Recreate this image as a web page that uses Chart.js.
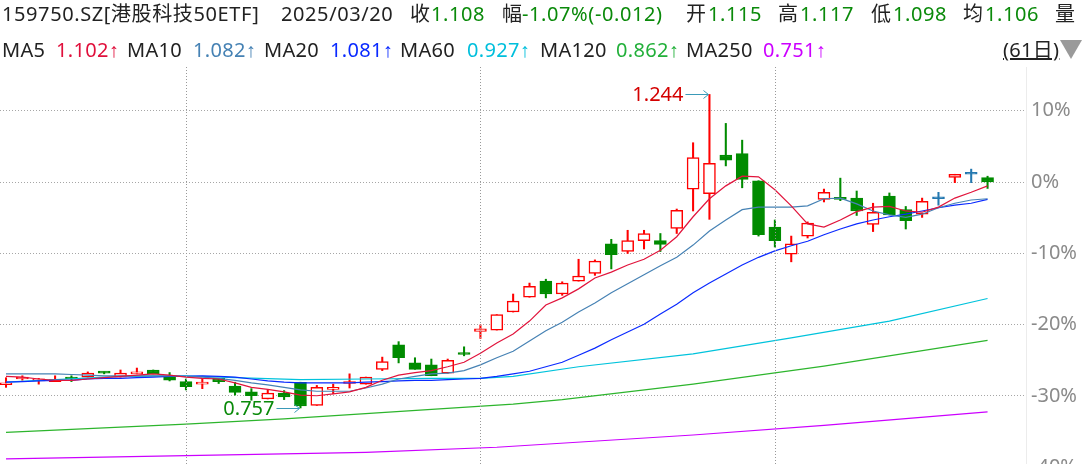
<!DOCTYPE html>
<html>
<head>
<meta charset="utf-8">
<script src="https://cdn.jsdelivr.net/npm/chart.js@4.4.1/dist/chart.umd.min.js"></script>
<style>
  html, body { margin: 0; padding: 0; background: #fff; overflow: hidden; width: 1086px; height: 464px; }
  #wrap { position: absolute; left: 0; top: 0; width: 1086px; height: 500px; }
  #head { position: absolute; left: 0; top: 0; width: 1086px; height: 64px; z-index: 2;
    font-family: "Noto Sans", "Noto Sans CJK SC", sans-serif; font-size: 20px; color: #222; }
  #head span { position: absolute; white-space: nowrap; line-height: 20px; }
  .r1 { top: 4px; letter-spacing: 0.6px; }
  .r2 { top: 40px; letter-spacing: 0.3px; }
  .g { color: #0a8a0a; }
  .up { font-family: "Liberation Sans", sans-serif; }
  #tri { position: absolute; left: 1060px; top: 40px; width: 0; height: 0;
    border-left: 11px solid transparent; border-right: 11px solid transparent; border-top: 19px solid #9a9a9a; }
</style>
</head>
<body>
<div id="head">
  <span class="r1" style="left:2px">159750.SZ[港股科技50ETF]</span>
  <span class="r1" style="left:281px">2025/03/20</span>
  <span class="r1" style="left:410px">收</span><span class="r1 g" style="left:431px">1.108</span>
  <span class="r1" style="left:502px">幅</span><span class="r1 g" style="left:522px">-1.07%(-0.012)</span>
  <span class="r1" style="left:686px">开</span><span class="r1 g" style="left:708px">1.115</span>
  <span class="r1" style="left:778px">高</span><span class="r1 g" style="left:800px">1.117</span>
  <span class="r1" style="left:871px">低</span><span class="r1 g" style="left:893px">1.098</span>
  <span class="r1" style="left:963px">均</span><span class="r1 g" style="left:985px">1.106</span>
  <span class="r1" style="left:1055px">量</span>

  <span class="r2" style="left:2px">MA5</span><span class="r2" style="left:56px;color:#e0103c">1.102<span class="up">↑</span></span>
  <span class="r2" style="left:127px">MA10</span><span class="r2" style="left:193px;color:#4682b4">1.082<span class="up">↑</span></span>
  <span class="r2" style="left:264px">MA20</span><span class="r2" style="left:330px;color:#0a2aff">1.081<span class="up">↑</span></span>
  <span class="r2" style="left:400px">MA60</span><span class="r2" style="left:467px;color:#00bfdc">0.927<span class="up">↑</span></span>
  <span class="r2" style="left:540px">MA120</span><span class="r2" style="left:616px;color:#22b03a">0.862<span class="up">↑</span></span>
  <span class="r2" style="left:686px">MA250</span><span class="r2" style="left:763px;color:#cc00ff">0.751<span class="up">↑</span></span>
  <span class="r2" style="left:1003px;text-decoration:underline">(61日)</span>
  <div id="tri"></div>
</div>
<div id="wrap"><canvas id="klineChart"></canvas></div>

<script>
// trading days shown (61日)
const dates = [
  "2024-12-17", "2024-12-18", "2024-12-19", "2024-12-20", "2024-12-23", "2024-12-24", "2024-12-25",
  "2024-12-26", "2024-12-27", "2024-12-30", "2024-12-31",
  "2025-01-02", "2025-01-03", "2025-01-06", "2025-01-07", "2025-01-08", "2025-01-09", "2025-01-10",
  "2025-01-13", "2025-01-14", "2025-01-15", "2025-01-16", "2025-01-17", "2025-01-20", "2025-01-21",
  "2025-01-22", "2025-01-23", "2025-01-24", "2025-01-27",
  "2025-02-05", "2025-02-06", "2025-02-07", "2025-02-10", "2025-02-11", "2025-02-12", "2025-02-13",
  "2025-02-14", "2025-02-17", "2025-02-18", "2025-02-19", "2025-02-20", "2025-02-21", "2025-02-24",
  "2025-02-25", "2025-02-26", "2025-02-27", "2025-02-28",
  "2025-03-03", "2025-03-04", "2025-03-05", "2025-03-06", "2025-03-07", "2025-03-10", "2025-03-11",
  "2025-03-12", "2025-03-13", "2025-03-14", "2025-03-17", "2025-03-18", "2025-03-19", "2025-03-20",
];

const opens = [
  0.793, 0.802, 0.799, 0.798, 0.803, 0.805, 0.812, 0.805, 0.810, 0.816, 0.806,
  0.798, 0.794, 0.803, 0.791, 0.782, 0.771, 0.780, 0.797, 0.761, 0.786, 0.795, 0.794, 0.817, 0.855,
  0.827, 0.824, 0.811, 0.841,
  0.876, 0.878, 0.906, 0.929, 0.954, 0.934, 0.954, 0.966, 1.012, 1.000, 1.017, 1.017, 1.036, 1.097,
  1.090, 1.150, 1.152, 1.110,
  1.038, 0.996, 1.024, 1.081, 1.083, 1.083, 1.042, 1.086, 1.065, 1.058, 1.082, 1.115, 1.120, 1.115,
];
const highs = [
  0.804, 0.807, 0.803, 0.807, 0.807, 0.813, 0.813, 0.816, 0.819, 0.816, 0.812,
  0.802, 0.803, 0.803, 0.797, 0.787, 0.785, 0.784, 0.797, 0.792, 0.794, 0.810, 0.805, 0.836, 0.860,
  0.835, 0.833, 0.833, 0.852,
  0.886, 0.902, 0.934, 0.951, 0.957, 0.953, 0.988, 0.987, 1.019, 1.033, 1.033, 1.028, 1.066, 1.169,
  1.244, 1.199, 1.173, 1.110,
  1.049, 1.024, 1.046, 1.097, 1.114, 1.094, 1.075, 1.091, 1.070, 1.083, 1.092, 1.120, 1.128, 1.117,
];
const lows = [
  0.789, 0.800, 0.794, 0.798, 0.798, 0.805, 0.810, 0.805, 0.810, 0.810, 0.799,
  0.785, 0.787, 0.795, 0.777, 0.769, 0.771, 0.770, 0.757, 0.761, 0.779, 0.788, 0.794, 0.815, 0.827,
  0.817, 0.807, 0.811, 0.838,
  0.865, 0.878, 0.906, 0.929, 0.928, 0.932, 0.954, 0.963, 0.973, 0.997, 1.004, 1.000, 1.028, 1.063,
  1.050, 1.133, 1.099, 1.024,
  1.007, 0.984, 1.021, 1.077, 1.079, 1.056, 1.031, 1.057, 1.035, 1.053, 1.072, 1.107, 1.107, 1.098,
];
const closes = [
  0.796, 0.804, 0.802, 0.801, 0.802, 0.811, 0.811, 0.811, 0.812, 0.810, 0.800,
  0.790, 0.797, 0.798, 0.781, 0.776, 0.780, 0.774, 0.760, 0.789, 0.788, 0.797, 0.805, 0.829, 0.835,
  0.817, 0.807, 0.831, 0.840,
  0.880, 0.902, 0.923, 0.946, 0.934, 0.951, 0.962, 0.985, 0.995, 1.017, 1.028, 1.011, 1.064, 1.146,
  1.137, 1.142, 1.112, 1.026,
  1.017, 1.012, 1.044, 1.092, 1.081, 1.063, 1.061, 1.057, 1.048, 1.078, 1.082, 1.120, 1.120, 1.108,
];

const ma5 = [
  0.806, 0.805, 0.802, 0.800, 0.800, 0.802, 0.804, 0.806, 0.808, 0.810, 0.808,
  0.805, 0.803, 0.802, 0.796, 0.789, 0.786, 0.782, 0.777, 0.776, 0.779, 0.782, 0.789, 0.800, 0.808,
  0.812, 0.815, 0.821, 0.828,
  0.842, 0.858, 0.872, 0.892, 0.917, 0.928, 0.942, 0.959, 0.968, 0.979, 0.988, 1.002, 1.023, 1.054,
  1.082, 1.102, 1.117, 1.116,
  1.096, 1.071, 1.043, 1.038, 1.049, 1.062, 1.069, 1.070, 1.063, 1.061, 1.069, 1.083, 1.092, 1.102,
];
const ma10 = [
  0.810, 0.810, 0.810, 0.810, 0.809, 0.808, 0.807, 0.807, 0.807, 0.807, 0.807,
  0.806, 0.805, 0.803, 0.800, 0.796, 0.793, 0.789, 0.785, 0.783, 0.783, 0.783, 0.788, 0.794, 0.802,
  0.806, 0.810, 0.811, 0.815,
  0.824, 0.835, 0.845, 0.861, 0.877, 0.890, 0.906, 0.920, 0.936, 0.950, 0.964, 0.978, 0.991, 1.010,
  1.032, 1.049, 1.065, 1.069,
  1.069, 1.069, 1.071, 1.082, 1.083, 1.074, 1.063, 1.057, 1.053, 1.058, 1.068, 1.075, 1.080, 1.082,
];
const ma20 = [
  0.797, 0.798, 0.799, 0.800, 0.800, 0.802, 0.803, 0.803, 0.804, 0.805, 0.806,
  0.806, 0.807, 0.806, 0.805, 0.802, 0.799, 0.797, 0.796, 0.796, 0.796, 0.796, 0.797, 0.798, 0.799,
  0.800, 0.800, 0.801, 0.802,
  0.803, 0.806, 0.810, 0.814, 0.821, 0.828, 0.839, 0.850, 0.863, 0.875, 0.887, 0.903, 0.918, 0.936,
  0.951, 0.965, 0.979, 0.991,
  1.001, 1.009, 1.016, 1.026, 1.035, 1.043, 1.049, 1.054, 1.058, 1.063, 1.068, 1.072, 1.075, 1.081,
];
// slow averages, read at the days where they bend
const ma60Days = [0, 7, 11, 14, 18, 22, 26, 29, 31, 35, 42, 48, 54, 60];
const ma60 = [0.797, 0.806, 0.807, 0.804, 0.801, 0.802, 0.803, 0.803, 0.806, 0.821, 0.841, 0.866, 0.892, 0.927];
const ma120Days = [0, 11, 17, 31, 34, 42, 50, 60];
const ma120 = [0.719, 0.732, 0.740, 0.763, 0.770, 0.794, 0.822, 0.862];
const ma250Days = [0, 22, 30, 42, 50, 60];
const ma250 = [0.678, 0.688, 0.696, 0.715, 0.730, 0.751];

const basePrice = 1.108;
const pctTicks = [-40, -30, -20, -10, 0, 10];

const UP = "#ff0000";
const DOWN = "#008b00";
const FLAT = "#2478b0";
const GRID = "#999999";

const dayIdx = dates.map((d, i) => i);
const monthStarts = dayIdx.filter(i => i > 0 && dates[i].slice(0, 7) !== dates[i - 1].slice(0, 7));

function candleColor(i) {
  if (closes[i] > opens[i]) return UP;
  if (closes[i] < opens[i]) return DOWN;
  return FLAT;
}

function maLine(days, values, color) {
  return {
    type: "line",
    data: days.map((d, k) => ({ x: d, y: values[k] })),
    borderColor: color,
    borderWidth: 1.2,
    pointRadius: 0,
    tension: 0,
    order: 0,
  };
}

// dotted separators at the first trading day of each month
const monthLines = {
  id: "monthLines",
  afterDatasetsDraw(chart) {
    const { ctx, chartArea } = chart;
    const xs = chart.scales.x;
    ctx.save();
    ctx.fillStyle = GRID;
    xs.ticks.forEach((t, k) => {
      const px = Math.round(xs.getPixelForTick(k));
      for (let y = Math.ceil(chartArea.top); y < chartArea.bottom; y += 3) {
        ctx.fillRect(px, y, 1, 1);
      }
    });
    ctx.restore();
  },
};

// high / low markers with the little arrow
const extremeLabels = {
  id: "extremeLabels",
  afterDatasetsDraw(chart) {
    const { ctx } = chart;
    const xs = chart.scales.x;
    const ys = chart.scales.y;
    const hi = Math.max(...highs);
    const lo = Math.min(...lows);
    const marks = [
      { i: highs.indexOf(hi), v: hi, color: "#d40000" },
      { i: lows.indexOf(lo), v: lo, color: "#0a8a0a" },
    ];
    ctx.save();
    ctx.font = '20px "Noto Sans"';
    ctx.textAlign = "right";
    ctx.textBaseline = "middle";
    marks.forEach(m => {
      const px = xs.getPixelForValue(m.i);
      const py = Math.round(ys.getPixelForValue(m.v)) + 0.5;
      ctx.strokeStyle = "#3a9ab8";
      ctx.lineWidth = 1;
      ctx.beginPath();
      ctx.moveTo(px - 24, py);
      ctx.lineTo(px - 1, py);
      ctx.moveTo(px - 6, py - 4);
      ctx.lineTo(px - 1, py);
      ctx.lineTo(px - 6, py + 4);
      ctx.stroke();
      ctx.fillStyle = m.color;
      ctx.fillText(m.v.toFixed(3), px - 26, py + 1);
    });
    ctx.restore();
  },
};

new Chart(document.getElementById("klineChart"), {
  type: "bar",
  data: {
    datasets: [
      maLine(dayIdx, ma5, "#e1143c"),
      maLine(dayIdx, ma10, "#4682b4"),
      maLine(dayIdx, ma20, "#0a2aff"),
      maLine(ma60Days, ma60, "#00c3dc"),
      maLine(ma120Days, ma120, "#2db52d"),
      maLine(ma250Days, ma250, "#cc00ff"),
      {
        // bodies
        data: dayIdx.map(i => ({ x: i, y: [opens[i], closes[i]] })),
        backgroundColor: dayIdx.map(i => (closes[i] > opens[i] ? "#ffffff" : candleColor(i))),
        borderColor: dayIdx.map(candleColor),
        borderWidth: 1.5,
        borderSkipped: false,
        barThickness: 12,
        minBarLength: 2,
        grouped: false,
        order: 1,
      },
      {
        // wicks
        data: dayIdx.map(i => ({ x: i, y: [lows[i], highs[i]] })),
        backgroundColor: dayIdx.map(candleColor),
        borderWidth: 0,
        barThickness: 1.4,
        grouped: false,
        order: 2,
      },
    ],
  },
  options: {
    responsive: true,
    maintainAspectRatio: false,
    animation: false,
    layout: { padding: { top: 67, bottom: 20, left: 0, right: 0 } },
    plugins: {
      legend: { display: false },
      tooltip: { enabled: false },
    },
    scales: {
      x: {
        type: "linear",
        bounds: "data",
        offset: false,
        min: -0.367,
        max: 62.35,
        afterBuildTicks: s => { s.ticks = monthStarts.map(v => ({ value: v })); },
        ticks: { display: false },
        grid: { display: false, drawTicks: false, offset: false },
        border: { display: false },
      },
      y: {
        type: "linear",
        position: "right",
        bounds: "data",
        min: basePrice * (1 - 0.41777),
        max: basePrice * (1 + 0.16122),
        afterBuildTicks: s => { s.ticks = pctTicks.map(p => ({ value: basePrice * (1 + p / 100) })); },
        afterFit: s => { s.width = 60; },
        ticks: {
          padding: 5,
          color: "#8a8a8a",
          autoSkip: false,
          font: { family: "Noto Sans", size: 20 },
          callback: v => Math.round((v / basePrice - 1) * 100) + "%",
        },
        grid: { color: "#a6a6a6", lineWidth: 1, drawTicks: false },
        border: { display: true, color: "#ececec", dash: [1, 2] },
      },
    },
  },
  plugins: [monthLines, extremeLabels],
});
</script>
</body>
</html>
